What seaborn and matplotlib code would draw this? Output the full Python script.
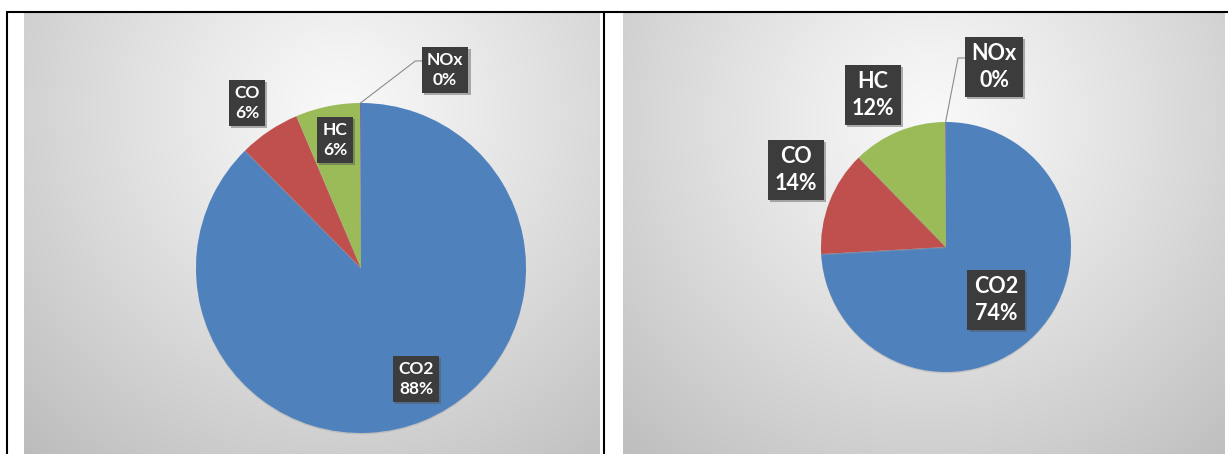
import numpy as np
import matplotlib
matplotlib.use("Agg")
import matplotlib.pyplot as plt
import matplotlib.patheffects as pe
from matplotlib.lines import Line2D
import seaborn as sns

# Emission shares (%) for the two cases
categories = ["CO2", "CO", "HC", "NOx"]
share_left = [87.6, 6.0, 6.3, 0.1]
share_right = [74.1, 13.6, 12.2, 0.1]
slice_colors = ["#4F81BD", "#C0504D", "#9BBB59", "#8064A2"]

sns.set_theme(style="white")
plt.rcParams["font.family"] = ["Lato", "DejaVu Sans"]

W, H = 1228, 454
fig = plt.figure(figsize=(W / 100, H / 100), dpi=100)
fig.patch.set_facecolor("white")

# panel layout in pixels: background box, pie centre, radius, gradient centre
panels = [
    dict(values=share_left, box=(24, 13, 600, 454), center=(361, 268), radius=165,
         glow=(340, 110), fs=12.5, ls=1.3,
         label_pos=[(0.333, -0.673), (-0.691, 1.0), (-0.158, 0.776), (0.509, 1.2)],
         leader=[(0.33, 1.255), (0.375, 1.255)]),
    dict(values=share_right, box=(623, 13, 1225, 454), center=(946, 247), radius=125,
         glow=(930, 120), fs=15.5, ls=1.3,
         label_pos=[(0.40, -0.424), (-1.2, 0.616), (-0.584, 1.216), (0.384, 1.44)],
         leader=[(0.096, 1.512), (0.17, 1.512)]),
]

for p in panels:
    x0, y0, x1, y1 = p["box"]
    cx, cy = p["center"]
    r = p["radius"]
    ax = fig.add_axes([x0 / W, 1 - y1 / H, (x1 - x0) / W, (y1 - y0) / H])
    xlim = ((x0 - cx) / r, (x1 - cx) / r)
    ylim = ((cy - y1) / r, (cy - y0) / r)

    # radial grey background
    xs = np.arange(x0, x1)
    ys = np.arange(y0, y1)
    X, Y = np.meshgrid(xs, ys)
    d = np.hypot(X - p["glow"][0], Y - p["glow"][1]) / 460.0
    g = 0.975 - 0.235 * np.clip(d, 0, 1) ** 1.15
    img = np.dstack([g, g, g])
    ax.imshow(img, extent=(xlim[0], xlim[1], ylim[0], ylim[1]), origin="upper",
              aspect="auto", interpolation="bilinear", zorder=0)

    wedges, _ = ax.pie(p["values"], colors=slice_colors, startangle=90, counterclock=False,
                       radius=1, center=(0, 0), wedgeprops=dict(linewidth=0))
    for w in wedges:
        w.set_zorder(2)
        w.set_path_effects([pe.SimplePatchShadow(offset=(0, -1), shadow_rgbFace="#9a9a9a",
                                                 alpha=0.35), pe.Normal()])

    # data labels
    for cat, val, (lx, ly) in zip(categories, p["values"], p["label_pos"]):
        t = ax.text(lx, ly, f"{cat}\n{val:.0f}%", ha="center", va="center", color="white",
                    fontsize=p["fs"], fontweight="bold", linespacing=p["ls"], zorder=6,
                    bbox=dict(boxstyle="square,pad=0.3", fc="#3c3c3c", ec="none"))
        t.get_bbox_patch().set_path_effects([
            pe.SimplePatchShadow(offset=(1.5, -1.5), shadow_rgbFace="#555555", alpha=0.45),
            pe.Normal()])

    # leader line for the smallest slice
    w = wedges[3]
    ang = np.deg2rad((w.theta1 + w.theta2) / 2)
    sx, sy = np.cos(ang), np.sin(ang)
    (ex, ey), (fx, fy) = p["leader"]
    ax.plot([sx, ex, fx], [sy, ey, fy], color="#8c8c8c", lw=0.8, zorder=5)

    ax.set_aspect("auto")
    ax.set_xlim(*xlim)
    ax.set_ylim(*ylim)
    ax.axis("off")

# table-cell borders
lw = 1.5
fig.add_artist(Line2D([6.5 / W, 1], [1 - 11.5 / H] * 2, transform=fig.transFigure,
                      color="black", lw=lw))
for xv in (6.5, 604):
    fig.add_artist(Line2D([xv / W] * 2, [0, 1 - 11.5 / H], transform=fig.transFigure,
                          color="black", lw=lw))

fig.savefig("out.png", dpi=100)
